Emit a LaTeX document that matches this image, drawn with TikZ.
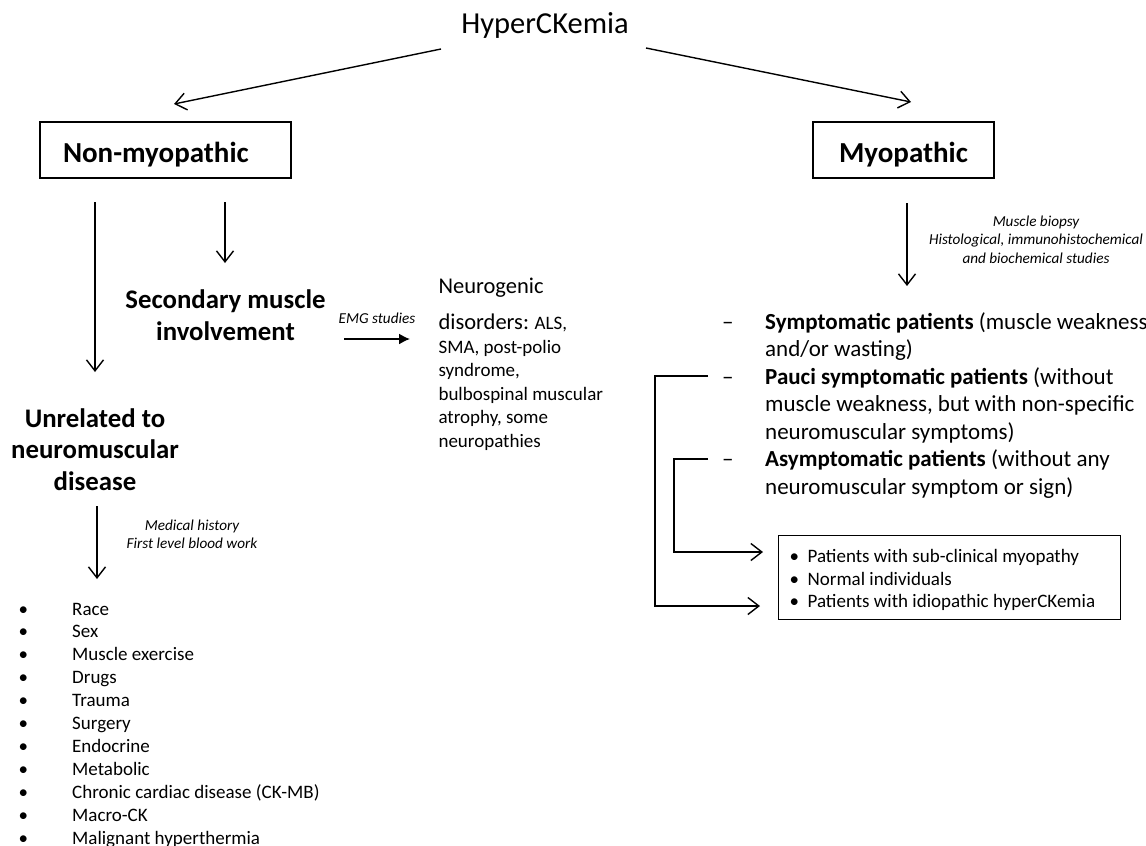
\documentclass[tikz,border=0pt]{standalone}
\usepackage{fontspec}
\setmainfont{Carlito}
\usetikzlibrary{arrows.meta}
\newcommand\myfs[2]{\fontsize{#1pt}{#2pt}\selectfont}
\tikzset{
 conn/.style={line width=1.4pt, -{Straight Barb[length=11pt,width=17pt,line width=1.4pt]}},
 filledarrow/.style={line width=1.6pt, -{Latex[length=11pt,width=11pt]}},
 boxed/.style={draw, line width=1.2pt},
 head/.style={font=\bfseries\myfs{26.8}{31.5}},
 boxhead/.style={font=\bfseries\myfs{29}{34}},
 ital/.style={font=\itshape\myfs{15.2}{18.3}},
}
\begin{document}
\begin{tikzpicture}[x=1pt,y=-1pt]
\useasboundingbox (0,0) rectangle (1146,846);
\fill[white] (0,0) rectangle (1146,846);

% top
\node[anchor=base, font=\myfs{30.5}{36}] (hyper) at (545,33) {HyperCKemia};
\node[boxed, boxhead, minimum width=251pt, minimum height=56pt, text width=205pt, inner xsep=23pt, align=left, text height=24pt, text depth=0pt] (nonmyo) at (165.5,150) {Non-myopathic};
\node[boxed, boxhead, minimum width=181pt, minimum height=56pt, text height=24pt, text depth=0pt] (myo) at (903.5,150) {Myopathic};

\coordinate (hL) at (441,49); \coordinate (nL) at (174,104);
\coordinate (hR) at (646,48); \coordinate (nR) at (911,102);
\draw[conn] (hL) -- (nL);
\draw[conn] (hR) -- (nR);

% left branch
\coordinate (v1s) at (95,202); \coordinate (v1e) at (95,372);
\coordinate (v2s) at (225,202); \coordinate (v2e) at (225,263);
\draw[conn] (v1s) -- (v1e);
\draw[conn] (v2s) -- (v2e);

\node[head, align=center, anchor=base] (sec) at (225.5,340) {Secondary muscle\\involvement};
\node[head, align=center, anchor=base] (unrel) at (95,490) {Unrelated to\\neuromuscular\\disease};

\node[ital, anchor=base] (emg) at (377,323) {EMG studies};
\coordinate (e1) at (344,339); \coordinate (e2) at (410,339);
\draw[filledarrow] (e1) -- (e2);

\node[anchor=base west, font=\myfs{22.5}{27}] (neuro) at (435,293) {Neurogenic};
\node[anchor=base west, align=left, font=\myfs{19}{23.5}] (neurolist) at (435,447)
 {{\myfs{22.5}{27}disorders:} ALS,\\SMA, post-polio\\syndrome,\\bulbospinal muscular\\atrophy, some\\neuropathies};

\node[ital, align=center, anchor=base] (med) at (192,548.5) {Medical history\\First level blood work};
\coordinate (v3s) at (97,506); \coordinate (v3e) at (97,579);
\draw[conn] (v3s) -- (v3e);

\node[anchor=base west, font=\myfs{19}{22.9}, inner sep=0pt] (factors) at (18.5,615)
 {\begin{tabular}[t]{@{}p{53.5pt}@{}l@{}}
 • & Race\\
 • & Sex\\
 • & Muscle exercise\\
 • & Drugs\\
 • & Trauma\\
 • & Surgery\\
 • & Endocrine\\
 • & Metabolic\\
 • & Chronic cardiac disease (CK-MB)\\
 • & Macro-CK\\
 • & Malignant hyperthermia
 \end{tabular}};

% right branch
\coordinate (v4s) at (907,203); \coordinate (v4e) at (907,286);
\draw[conn] (v4s) -- (v4e);
\node[ital, align=center, anchor=base] (biopsy) at (1036,263) {Muscle biopsy\\Histological, immunohistochemical\\and biochemical studies};

\node[anchor=base west, font=\myfs{23}{27.5}, inner sep=0pt] (patients) at (722,329)
 {\begin{tabular}[t]{@{}p{43pt}@{}l@{}}
 – & \textbf{Symptomatic patients} (muscle weakness\\
   & and/or wasting)\\
 – & \textbf{Pauci symptomatic patients} (without\\
   & muscle weakness, but with non-specific\\
   & neuromuscular symptoms)\\
 – & \textbf{Asymptomatic patients} (without any\\
   & neuromuscular symptom or sign)
 \end{tabular}};

\node[boxed, anchor=north west, inner xsep=11pt, inner ysep=0pt, text height=27pt, text depth=57pt, font=\myfs{19}{22.5}] (outcome) at (778,535)
 {\begin{tabular}[t]{@{}p{18pt}@{}p{302pt}@{}}
 • & Patients with sub-clinical myopathy\\
 • & Normal individuals\\
 • & Patients with idiopathic hyperCKemia
 \end{tabular}};

\coordinate (p1) at (708,376); \coordinate (p2) at (655,376); \coordinate (p3) at (655,606); \coordinate (p4) at (760,606);
\coordinate (q1) at (708,459); \coordinate (q2) at (674,459); \coordinate (q3) at (674,552); \coordinate (q4) at (763,552);
\draw[conn] (p1) -- (p2) -- (p3) -- (p4);
\draw[conn] (q1) -- (q2) -- (q3) -- (q4);
\end{tikzpicture}
\end{document}
